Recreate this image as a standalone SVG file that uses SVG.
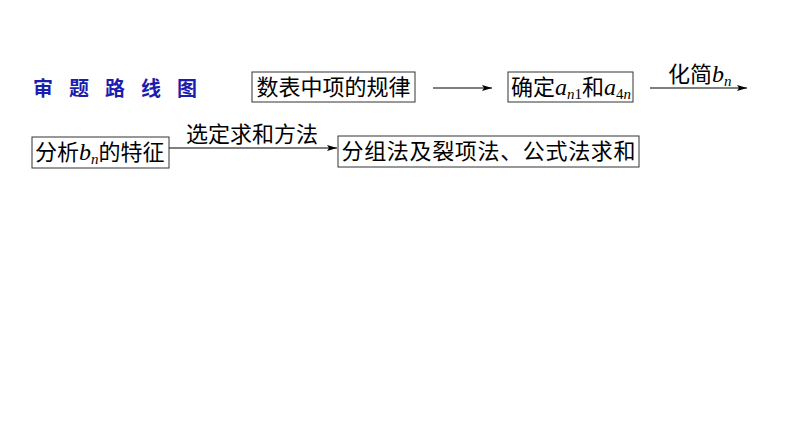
<svg xmlns="http://www.w3.org/2000/svg" width="794" height="447" viewBox="0 0 794 447">
<style>
.box{fill:#fff;stroke:#333;stroke-width:1}
.cn{font-family:"Noto Sans CJK SC","Liberation Sans",sans-serif;font-size:22px;fill:#000}
.it{font-family:"Liberation Serif",serif;font-style:italic}
.up{font-family:"Liberation Serif",serif}
.ttl{font-family:"Noto Sans CJK SC",sans-serif;font-size:20px;font-weight:bold;fill:#1c1cae}
.ln{stroke:#000;stroke-width:1.2;fill:none;marker-end:url(#ah)}
</style>
<defs>
<marker id="ah" viewBox="0 0 10 6" refX="10" refY="3" markerWidth="10" markerHeight="6" markerUnits="userSpaceOnUse" orient="auto">
<path d="M0,0 L10,3 L0,6 L2,3 Z" fill="#000"/>
</marker>
</defs>
<rect width="794" height="447" fill="#fff"/>
<text class="ttl" x="33 69 105 141 177" y="96">审题路线图</text>
<g id="connectors">
<line class="ln" x1="433" y1="88" x2="492" y2="88"/>
<line class="ln" x1="650" y1="88" x2="747" y2="88"/>
<text class="cn" x="668" y="82">化简<tspan class="it" font-size="24">b</tspan><tspan class="it" font-size="15" dy="4">n</tspan></text>
<line class="ln" x1="169" y1="148" x2="337" y2="148"/>
<text class="cn" x="186" y="142">选定求和方法</text>
</g>
<g id="n1">
<rect class="box" x="252" y="72" width="163" height="30"/>
<text class="cn" x="333.5" y="95" text-anchor="middle">数表中项的规律</text>
</g>
<g id="n2">
<rect class="box" x="508" y="72" width="125" height="30"/>
<text class="cn" x="511" y="95">确定<tspan class="it" font-size="24">a</tspan><tspan class="it" font-size="15" dy="4">n</tspan><tspan class="up" font-size="15">1</tspan><tspan dy="-4">和</tspan><tspan class="it" font-size="24">a</tspan><tspan class="up" font-size="15" dy="4">4</tspan><tspan class="it" font-size="15">n</tspan></text>
</g>
<g id="n3">
<rect class="box" x="32" y="137" width="137" height="31"/>
<text class="cn" x="35" y="160">分析<tspan class="it" font-size="24">b</tspan><tspan class="it" font-size="15" dy="4">n</tspan><tspan dy="-4">的特征</tspan></text>
</g>
<g id="n4">
<rect class="box" x="338" y="136" width="301" height="31"/>
<text class="cn" x="488.5" y="159" text-anchor="middle" textLength="294" lengthAdjust="spacing">分组法及裂项法、公式法求和</text>
</g>
</svg>
